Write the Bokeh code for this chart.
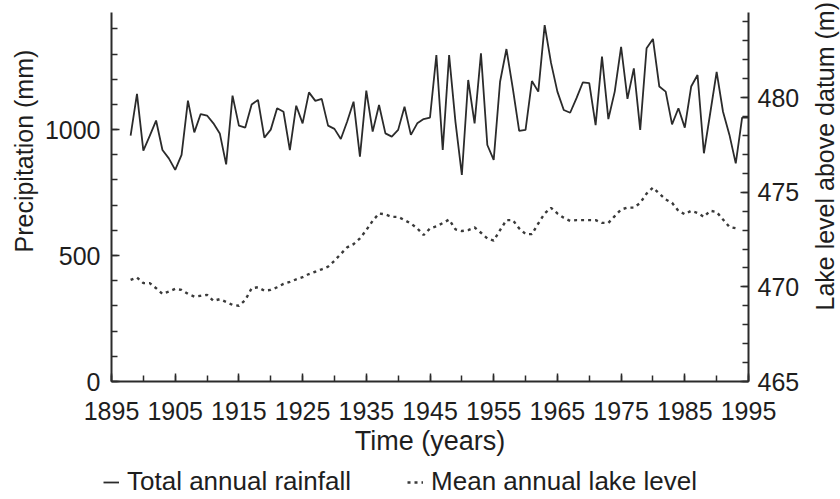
from bokeh.plotting import figure
from bokeh.layouts import row, column
from bokeh.models import Range1d, LinearAxis, FixedTicker, Legend, LegendItem, Title
from bokeh.embed import file_html
from bokeh.resources import INLINE

# ---- data ----
rain_years = list(range(1898, 1996))
rainfall_mm = [
    976, 1142, 917, 975, 1036, 919, 886, 840, 900, 1115,          # 1898-1907
    989, 1062, 1056, 1025, 985, 862, 1135, 1016, 1008, 1100,      # 1908-1917
    1118, 968, 1000, 1085, 1071, 919, 1095, 1025, 1148, 1114,     # 1918-1927
    1122, 1016, 1003, 963, 1032, 1111, 893, 1155, 992, 1098,      # 1928-1937
    985, 972, 999, 1091, 979, 1025, 1042, 1048, 1296, 919,        # 1938-1947
    1296, 1030, 820, 1197, 1025, 1303, 939, 880, 1190, 1320,      # 1948-1957
    1164, 995, 999, 1193, 1151, 1415, 1265, 1151, 1078, 1067,     # 1958-1967
    1125, 1188, 1185, 1018, 1290, 1042, 1151, 1329, 1122, 1243,   # 1968-1977
    999, 1323, 1360, 1171, 1151, 1021, 1085, 1008, 1171, 1217,    # 1978-1987
    906, 1067, 1229, 1071, 980, 866, 1048, 1048,                  # 1988-1995
]

lake_years = list(range(1898, 1994))
lake_level_m = [
    470.37, 470.50, 470.20, 470.20, 469.93, 469.63, 469.75, 469.90, 469.84, 469.63,  # 1898-1907
    469.49, 469.53, 469.58, 469.26, 469.35, 469.20, 469.05, 469.00, 469.30, 469.93,  # 1908-1917
    469.98, 469.80, 469.84, 469.98, 470.16, 470.26, 470.40, 470.51, 470.68, 470.80,  # 1918-1927
    470.93, 471.07, 471.38, 471.74, 472.09, 472.26, 472.56, 473.00, 473.49, 473.88,  # 1928-1937
    473.83, 473.70, 473.70, 473.53, 473.35, 473.09, 472.74, 473.09, 473.20, 473.37,  # 1938-1947
    473.56, 473.04, 472.95, 473.00, 473.14, 472.86, 472.56, 472.44, 473.00, 473.53,  # 1948-1957
    473.53, 473.09, 472.79, 472.79, 473.35, 473.88, 474.18, 473.88, 473.65, 473.49,  # 1958-1967
    473.53, 473.53, 473.53, 473.53, 473.38, 473.38, 473.74, 474.09, 474.19, 474.19,  # 1968-1977
    474.44, 474.93, 475.25, 474.93, 474.62, 474.44, 474.02, 473.84, 474.02, 473.91,  # 1978-1987
    473.70, 474.02, 473.96, 473.56, 473.17, 473.10,                                  # 1988-1993
]
lake_years = lake_years[:len(lake_level_m)]

x_ticks = list(range(1895, 1996, 10))
x_minor = list(range(1895, 1996, 5))
left_ticks = [0, 500, 1000]
left_minor = list(range(0, 1500, 100))
right_ticks = [465, 470, 475, 480]
right_minor = list(range(465, 485))

FONT = "Liberation Sans"
INK = "#2b2b2b"
TXT = "#1e1e1e"
RAIN_STYLE = dict(line_color=INK, line_width=1.8)
LAKE_STYLE = dict(line_color="#3a3a3a", line_width=2.4, line_dash="3 4")


def blank(fig):
    fig.xaxis.visible = False
    fig.yaxis.visible = False
    fig.xgrid.visible = False
    fig.ygrid.visible = False
    fig.outline_line_color = None
    fig.background_fill_color = "white"
    fig.border_fill_color = "white"


# ---- main chart ----
p = figure(frame_width=637, frame_height=369,
           min_border_left=111, min_border_right=58, min_border_top=12, min_border_bottom=84,
           output_backend="svg", toolbar_location=None,
           x_range=Range1d(1895, 1995), y_range=Range1d(0, 1465))
p.extra_y_ranges = {"lake": Range1d(465, 484.5)}
p.xgrid.visible = False
p.ygrid.visible = False
p.outline_line_color = None
p.background_fill_color = "white"
p.border_fill_color = "white"

p.line(rain_years, rainfall_mm, **RAIN_STYLE)
p.line(lake_years, lake_level_m, y_range_name="lake", **LAKE_STYLE)


def style_axis(ax):
    ax.axis_line_color = INK
    ax.axis_line_width = 2
    ax.major_tick_line_color = INK
    ax.minor_tick_line_color = INK
    ax.major_tick_line_width = 1.5
    ax.minor_tick_line_width = 1.5
    ax.major_tick_in = 8
    ax.major_tick_out = 0
    ax.minor_tick_in = 6
    ax.minor_tick_out = 0
    ax.major_label_text_font = FONT
    ax.major_label_text_font_size = "25px"
    ax.major_label_text_color = TXT
    ax.axis_label_text_font = FONT
    ax.axis_label_text_font_size = "27px"
    ax.axis_label_text_font_style = "normal"
    ax.axis_label_text_color = TXT


xa = p.xaxis[0]
xa.ticker = FixedTicker(ticks=x_ticks, minor_ticks=x_minor)
xa.axis_label = "Time (years)"
style_axis(xa)
xa.major_label_standoff = 20
xa.axis_label_standoff = 3

ya = p.yaxis[0]
ya.ticker = FixedTicker(ticks=left_ticks, minor_ticks=left_minor)
style_axis(ya)
ya.major_label_standoff = 11

ra = LinearAxis(y_range_name="lake")
ra.ticker = FixedTicker(ticks=right_ticks, minor_ticks=right_minor)
style_axis(ra)
ra.major_label_standoff = 9
p.add_layout(ra, "right")

# left title: reads bottom-to-top, starting a little above the axis middle
p.add_layout(Title(text="Precipitation (mm)", align="left", offset=129, standoff=8,
                   text_font=FONT, text_font_size="25px", text_font_style="normal",
                   text_color=TXT), "left")

# ---- narrow strip carrying the right-hand axis title (reads bottom-to-top) ----
p2 = figure(width=34, height=465, min_border_left=32, min_border_right=0,
            min_border_top=12, min_border_bottom=84,
            output_backend="svg", toolbar_location=None,
            x_range=Range1d(0, 1), y_range=Range1d(465, 484.5))
blank(p2)
p2.add_layout(Title(text="Lake level above datum (m)", align="left", offset=71, standoff=0,
                    text_font=FONT, text_font_size="25px", text_font_style="normal",
                    text_color=TXT), "left")

# ---- legend strip under the chart (its lines lie outside the strip's view) ----
pl = figure(width=840, height=34, min_border=0,
            output_backend="svg", toolbar_location=None,
            x_range=Range1d(0, 1), y_range=Range1d(0, 1))
blank(pl)
lr_rain = pl.line(rain_years, rainfall_mm, **RAIN_STYLE)
lr_lake = pl.line(lake_years, lake_level_m, **LAKE_STYLE)
legend = Legend(items=[LegendItem(label="Total annual rainfall", renderers=[lr_rain]),
                       LegendItem(label="Mean annual lake level", renderers=[lr_lake])],
                orientation="horizontal", location=(103, 2),
                border_line_color=None, background_fill_alpha=0,
                label_text_font=FONT, label_text_font_size="26px", label_text_color=TXT,
                glyph_width=16, glyph_height=20, label_standoff=8, spacing=56,
                padding=0, margin=0)
pl.add_layout(legend)

layout = column(row(p, p2, spacing=0), pl, spacing=0)
open("out.html", "w").write(file_html(layout, INLINE))
